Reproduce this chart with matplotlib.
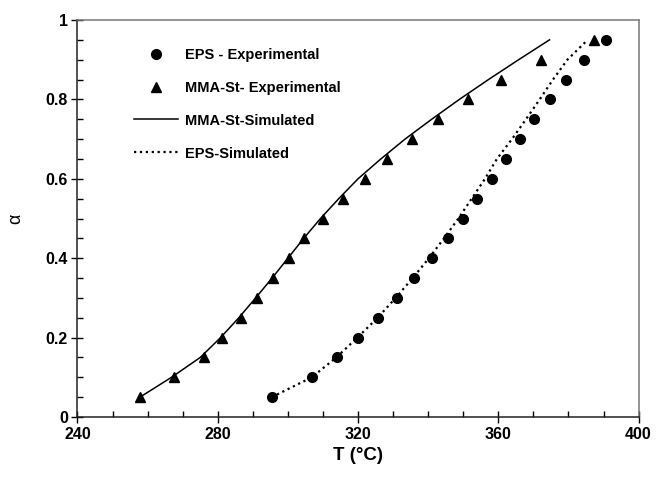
import numpy as np
import matplotlib
matplotlib.use("Agg")
import matplotlib.pyplot as plt
from matplotlib.ticker import MultipleLocator, FuncFormatter

plt.rcParams['font.family'] = ['Liberation Sans', 'DejaVu Sans']

# conversion levels (alpha) shared by all series
alpha_levels = [0.05, 0.10, 0.15, 0.20, 0.25, 0.30, 0.35, 0.40, 0.45, 0.50,
                0.55, 0.60, 0.65, 0.70, 0.75, 0.80, 0.85, 0.90, 0.95]

# EPS - experimental (circles)
T_eps_exp = [295.4, 307.0, 314.0, 319.9, 325.8, 331.0, 336.1, 341.0, 345.6, 349.8,
             354.0, 358.1, 362.1, 366.1, 370.2, 374.6, 379.3, 384.3, 390.8]

# MMA-St - experimental (triangles)
T_mma_exp = [257.8, 267.6, 276.0, 281.3, 286.5, 291.1, 295.8, 300.2, 304.7, 310.0,
             315.6, 322.0, 328.3, 335.4, 342.9, 351.3, 360.9, 372.3, 387.4]

# MMA-St - simulated (solid line)
T_mma_sim = [257.8, 266.8, 275.0, 280.8, 286.0, 290.8, 295.5, 300.0, 304.5, 309.3,
             314.5, 320.0, 326.5, 333.4, 341.0, 348.9, 357.2, 365.8, 374.6]

# EPS - simulated (dotted line)
T_eps_sim = [295.4, 306.8, 313.8, 319.8, 325.6, 330.7, 335.6, 340.2, 344.5, 348.6,
             352.4, 356.2, 359.6, 363.9, 367.9, 371.8, 375.6, 379.7, 385.5]

fig = plt.figure(figsize=(6.59, 4.83), dpi=100)
ax = fig.add_axes([0.1176, 0.1366, 0.8514, 0.822])

ax.plot(T_eps_exp, alpha_levels, 'o', color='black', markersize=7, label='EPS - Experimental')
ax.plot(T_mma_exp, alpha_levels, '^', color='black', markersize=7.5, label='MMA-St- Experimental')
ax.plot(T_mma_sim, alpha_levels, '-', color='black', linewidth=1.1, label='MMA-St-Simulated')
ax.plot(T_eps_sim, alpha_levels, ':', color='black', linewidth=1.6, label='EPS-Simulated')

ax.set_xlim(240, 400)
ax.set_ylim(0, 1)
ax.xaxis.set_major_locator(MultipleLocator(40))
ax.xaxis.set_minor_locator(MultipleLocator(10))
ax.yaxis.set_major_locator(MultipleLocator(0.2))
ax.yaxis.set_minor_locator(MultipleLocator(0.05))
ax.yaxis.set_major_formatter(FuncFormatter(lambda v, p: ('%g' % round(v, 2))))

ax.tick_params(which='major', direction='inout', length=8, width=1, labelsize=11.5, pad=3)
ax.tick_params(which='minor', direction='in', length=4, width=1)
ax.tick_params(top=False, right=False, which='both')
for lbl in ax.get_xticklabels() + ax.get_yticklabels():
    lbl.set_fontweight('bold')

for s in ['left', 'bottom']:
    ax.spines[s].set_color('#222222')
    ax.spines[s].set_linewidth(1.1)
for s in ['top', 'right']:
    ax.spines[s].set_color('#777777')
    ax.spines[s].set_linewidth(1.1)

ax.set_xlabel('T (°C)', fontsize=13.5, fontweight='bold', labelpad=4)
ax.set_ylabel('α', fontsize=13, labelpad=15)

leg = ax.legend(loc='upper left', bbox_to_anchor=(0.09, 0.945), frameon=False,
                prop={'weight': 'bold', 'size': 10.5}, labelspacing=1.3,
                handlelength=3.0, handletextpad=0.5, borderaxespad=0)

fig.savefig('out.png', dpi=100)
